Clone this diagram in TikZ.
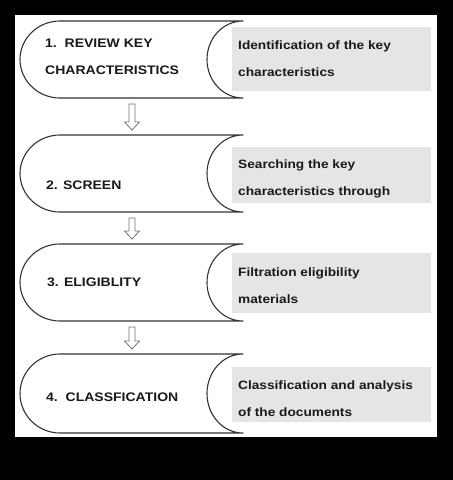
\documentclass[tikz,border=0pt]{standalone}
\usepackage{fontspec}
\setmainfont{Liberation Sans}
\newfontfamily\widesans[FakeStretch=1.13]{Liberation Sans}
\usetikzlibrary{calc}
\tikzset{
  stageshape/.style={draw=black!80, line width=1.1pt, fill=white, line join=round},
  graybox/.style={fill=black!10, draw=none},
  lbl/.style={anchor=west, inner sep=0pt, align=left, text=black!90, font=\widesans\bfseries\fontsize{12.4}{27}\selectfont},
  desc/.style={anchor=west, inner sep=0pt, align=left, text=black!90, font=\widesans\bfseries\fontsize{12.1}{27}\selectfont},
  hollowarrow/.style={draw=black!55, line width=0.8pt, fill=white, line join=miter}
}
\begin{document}
\begin{tikzpicture}[x=1pt,y=-1pt]
\fill[black] (0,0) rectangle (453,480);
\fill[white] (15,15) rectangle (437,437);
\useasboundingbox (0,0) rectangle (453,480);
% stage shapes
\foreach \i/\t/\b/\gt/\gb in {1/21/98/27/91, 2/135/212/147/203, 3/244/321/253/313, 4/354/433/367/422}{
  \pgfmathsetmacro\m{(\t+\b)/2}
  \pgfmathsetmacro\ry{0.5523*(\b-\t)/2}
  \draw[stageshape] (60,\t) -- (243,\t)
     .. controls (223,\t) and (207,{\m-\ry}) .. (207,\m)
     .. controls (207,{\m+\ry}) and (223,\b) .. (243,\b)
     -- (60,\b)
     .. controls (38,\b) and (20,{\m+\ry}) .. (20,\m)
     .. controls (20,{\m-\ry}) and (38,\t) .. (60,\t) -- cycle;
  \fill[graybox] (232,\gt) rectangle (431,\gb);
  \coordinate (top\i) at (132,\t);
  \coordinate (bot\i) at (132,\b);
}
% labels
\node[lbl] (l1) at (45,56.5) {1.\ \ REVIEW KEY\\CHARACTERISTICS};
\node[lbl] (l2) at (46,185) {2. SCREEN};
\node[lbl] (l3) at (47,282) {3. ELIGIBLITY};
\node[lbl] (l4) at (46,397) {4.\ \ CLASSFICATION};
\node[desc] (d1) at (238,58.5) {Identification of the key\\characteristics};
\node[desc] (d2) at (238,178.5) {Searching the key\\characteristics through};
\node[desc] (d3) at (238,286) {Filtration eligibility\\materials};
\node[desc] (d4) at (238,398.5) {Classification and analysis\\of the documents};
% hollow arrows
\foreach \a/\c in {1/2, 2/3, 3/4}{
  \draw[hollowarrow] ($(bot\a)+(-3,6)$) -- ($(top\c)+(-3,-13)$) -- ($(top\c)+(-7.5,-13)$)
     -- ($(top\c)+(0,-5)$) -- ($(top\c)+(7.5,-13)$) -- ($(top\c)+(3,-13)$)
     -- ($(bot\a)+(3,6)$) -- cycle;
}
\end{tikzpicture}
\end{document}
